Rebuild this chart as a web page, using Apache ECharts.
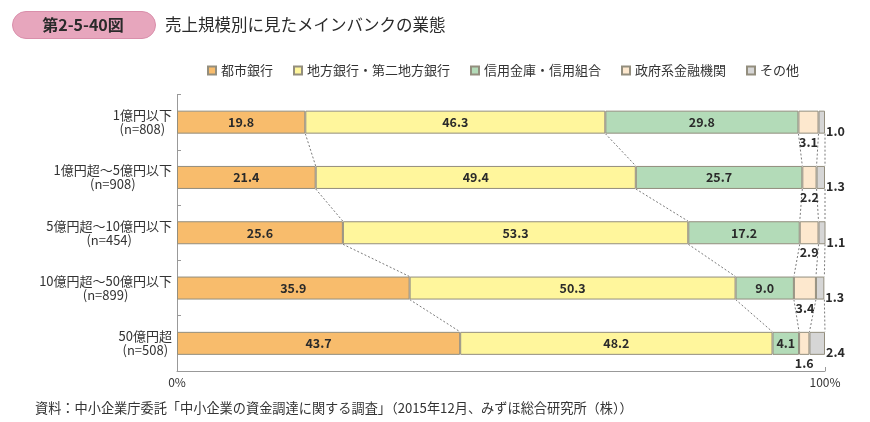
<!DOCTYPE html>
<html><head><meta charset="utf-8">
<script src="https://cdn.jsdelivr.net/npm/echarts@6/dist/echarts.min.js"></script>
<style>html,body{margin:0;padding:0;background:#fff}#c{width:870px;height:422px}</style>
</head><body><div id="c"></div>
<script>
const sizeLabels = ['1億円以下', '1億円超～5億円以下', '5億円超～10億円以下', '10億円超～50億円以下', '50億円超'];
const nLabels = ['(n=808)', '(n=908)', '(n=454)', '(n=899)', '(n=508)'];
const seriesNames = ['都市銀行', '地方銀行・第二地方銀行', '信用金庫・信用組合', '政府系金融機関', 'その他'];
const cityBanks = [19.8, 21.4, 25.6, 35.9, 43.7];
const regionalBanks = [46.3, 49.4, 53.3, 50.3, 48.2];
const shinkin = [29.8, 25.7, 17.2, 9.0, 4.1];
const govFin = [3.1, 2.2, 2.9, 3.4, 1.6];
const others = [1.0, 1.3, 1.1, 1.3, 2.4];
const xTickLabels = ['0%', '100%'];
const titleBadge = '第2-5-40図';
const titleText = '売上規模別に見たメインバンクの業態';
const sourceText = '資料：中小企業庁委託「中小企業の資金調達に関する調査」（2015年12月、みずほ総合研究所（株））';

const FONT = '"Noto Sans CJK JP", "Noto Sans", sans-serif';
const colors = ['#F8BC6C', '#FFF69C', '#B3DBB8', '#FDE8CE', '#D6D6D6'];
const BAR = 23;
const allVals = [cityBanks, regionalBanks, shinkin, govFin, others];
const categories = sizeLabels.map((s, i) => s + '\n' + nLabels[i]);

// measure widths so the second line can be centred under the first (right-aligned block)
const mctx = document.createElement('canvas').getContext('2d');
mctx.font = '13px ' + FONT;
const rich = { a: { fontSize: 13, lineHeight: 14, color: '#333', fontFamily: FONT } };
sizeLabels.forEach((s, i) => {
  const pad = Math.max(0, (mctx.measureText(s).width - mctx.measureText(nLabels[i]).width) / 2);
  rich['b' + i] = { fontSize: 13, lineHeight: 14, color: '#333', fontFamily: FONT, padding: [0, pad, 0, 0] };
});

// cumulative boundaries for connector lines
const cum = sizeLabels.map((_, i) => { let s = 0; return allVals.map(v => { s += v[i]; return Math.min(s, 100); }); });
const connectors = [];
for (let i = 0; i < sizeLabels.length - 1; i++) {
  for (let k = 0; k < allVals.length; k++) connectors.push([cum[i][k], i, cum[i + 1][k], i + 1]);
}

const labelBase = { show: true, color: '#2a2a2a', fontFamily: FONT, fontWeight: 'bold', fontSize: 12.5, formatter: p => p.value.toFixed(1) };
const barSeries = allVals.map((vals, idx) => {
  let label = Object.assign({}, labelBase, { position: 'inside' });
  if (idx === 3) label = Object.assign({}, labelBase, { position: 'bottom', distance: 2 });
  if (idx === 4) label = Object.assign({}, labelBase, { position: 'right', distance: 1, offset: [0, 9] });
  return {
    type: 'bar', name: seriesNames[idx], stack: 'all', data: vals, barWidth: BAR,
    itemStyle: { color: colors[idx], borderColor: '#938e7e', borderWidth: 1 },
    label, emphasis: { disabled: true }, z: 3
  };
});

const chart = echarts.init(document.getElementById('c'), null, { renderer: 'canvas' });
chart.setOption({
  animation: false,
  textStyle: { fontFamily: FONT },
  grid: { left: 177, right: 45, top: 94.5, bottom: 51, containLabel: false },
  legend: {
    data: seriesNames, left: 207, top: 64, padding: 0, itemWidth: 8, itemHeight: 8, itemGap: 20,
    icon: 'rect', textStyle: { fontSize: 13, color: '#333', fontFamily: FONT }, selectedMode: false
  },
  xAxis: {
    type: 'value', min: 0, max: 100, interval: 100,
    axisLine: { show: true, lineStyle: { color: '#999' } },
    axisTick: { show: true, inside: true, length: 4, lineStyle: { color: '#999' } },
    splitLine: { show: false },
    axisLabel: { margin: 5, color: '#333', fontSize: 12, fontFamily: FONT, formatter: v => v === 0 ? xTickLabels[0] : xTickLabels[1] }
  },
  yAxis: {
    type: 'category', data: categories, inverse: true,
    axisLine: { show: true, lineStyle: { color: '#999' } },
    axisTick: { show: true, inside: true, length: 4, lineStyle: { color: '#999' } },
    axisLabel: {
      margin: 5, color: '#333', fontFamily: FONT,
      formatter: (v, i) => { const p = v.split('\n'); return '{a|' + p[0] + '}\n{b' + i + '|' + p[1] + '}'; },
      rich
    }
  },
  series: barSeries.concat([{
    type: 'custom', name: 'connectors', data: connectors, clip: false, z: 1, silent: true,
    encode: { x: [0, 2], y: [1, 3] },
    renderItem: (params, api) => {
      const a = api.coord([api.value(0), api.value(1)]);
      const b = api.coord([api.value(2), api.value(3)]);
      return { type: 'line', shape: { x1: a[0], y1: a[1] + BAR / 2, x2: b[0], y2: b[1] - BAR / 2 },
        style: { stroke: '#7a7a7a', lineWidth: 1, lineDash: [2, 2] } };
    }
  }]),
  graphic: [
    { type: 'rect', left: 12, top: 11, shape: { width: 143, height: 27, r: 13.5 }, style: { fill: '#E7A6BD', stroke: '#D98FAB', lineWidth: 1 } },
    { type: 'text', x: 83, y: 25, style: { text: titleBadge, font: 'bold 16px ' + FONT, fill: '#2a2a2a', align: 'center', verticalAlign: 'middle' } },
    { type: 'text', x: 165, y: 25, style: { text: titleText, font: '16.5px ' + FONT, fill: '#2a2a2a', align: 'left', verticalAlign: 'middle' } },
    { type: 'text', x: 35, y: 408, style: { text: sourceText, font: '13.2px ' + FONT, fill: '#333', align: 'left', verticalAlign: 'middle' } }
  ]
});
</script></body></html>
